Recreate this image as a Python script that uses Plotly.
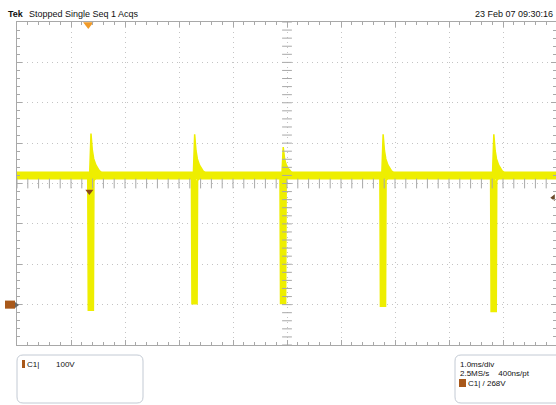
import numpy as np
import plotly.graph_objects as go

# ---------------- data ----------------
spike_time_ms = [1.37, 3.29, 4.93, 6.78, 8.83]     # time of each spike (ms)
spike_peak_v = [424, 422, 390, 422, 422]           # top of the positive overshoot (V)
spike_low_v = [-14, 2, 3, -4, -17]                 # bottom of the negative spike (V)
baseline_v = 320                                   # flat level of the trace (V)
trigger_time_ms = 1.32
trigger_level_v = 268
ground_level_v = 0

header_left = "Stopped Single Seq 1 Acqs"
header_right = "23 Feb 07 09:30:16"
ch_scale = "100V"
timebase_lines = ["1.0ms/div", "2.5MS/s    400ns/pt"]
trig_text = "C1| / 268V"

# shape templates (relative time offsets in ms, fraction of amplitude)
up_dt = [-0.025, 0.0, 0.025, 0.05, 0.09, 0.15, 0.25]
up_hi = [0.0, 1.0, 0.6, 0.4, 0.25, 0.12, 0.0]
up_lo = [0.0, 0.0, 0.16, 0.12, 0.07, 0.03, 0.0]
dn_dt = [-0.06, -0.05, 0.045, 0.055]
dn_fr = [0.0, 1.0, 1.0, 0.0]

# ---------------- layout geometry ----------------
W, H = 556, 405
L, T = 17, 22
PW, PH = 539, 323
XMAX = PW / 54.0
YMIN, YMAX = -100, 700

YEL = "#eeee00"
BROWN = "#a8581a"
ORANGE = "#f09a28"
GRID = "#c4c4c4"
AXC = "#a8a8a8"


def px(x):
    return (x - L) / PW


def py(y):
    return (T + PH - y) / PH


fig = go.Figure()

# baseline band
fig.add_trace(go.Scatter(x=[0, XMAX], y=[baseline_v, baseline_v], mode="lines",
                         line=dict(color=YEL, width=8), hoverinfo="skip", showlegend=False))

# spikes
xs, ys = [], []
for t, pk, lo in zip(spike_time_ms, spike_peak_v, spike_low_v):
    amp = pk - baseline_v
    for d, f in zip(up_dt, up_hi):
        xs.append(t + d); ys.append(baseline_v + f * amp)
    for d, f in zip(reversed(up_dt), reversed(up_lo)):
        xs.append(t + d); ys.append(baseline_v - f * amp)
    xs.append(None); ys.append(None)
    depth = baseline_v - lo
    for d, f in zip(dn_dt, dn_fr):
        xs.append(t + d); ys.append(baseline_v - f * depth)
    xs.append(None); ys.append(None)

fig.add_trace(go.Scatter(x=xs, y=ys, mode="lines", fill="toself", fillcolor=YEL,
                         line=dict(color=YEL, width=1.5), hoverinfo="skip", showlegend=False))

# crosshair ticks
cx = np.arange(0, 10.001, 0.2)
cy = np.arange(YMIN, YMAX + 0.1, 20)
fig.add_trace(go.Scatter(x=cx, y=[300] * len(cx), mode="markers",
                         marker=dict(symbol="line-ns", size=7, line=dict(color=AXC, width=1)),
                         hoverinfo="skip", showlegend=False, cliponaxis=False))
fig.add_trace(go.Scatter(x=[5] * len(cy), y=cy, mode="markers",
                         marker=dict(symbol="line-ew", size=7, line=dict(color=AXC, width=1)),
                         hoverinfo="skip", showlegend=False))

# trigger markers
fig.add_trace(go.Scatter(x=[trigger_time_ms], y=[YMAX - 6], mode="markers",
                         marker=dict(symbol="triangle-down", size=9, color=ORANGE),
                         hoverinfo="skip", showlegend=False, cliponaxis=False))
fig.add_trace(go.Scatter(x=[trigger_time_ms + 0.02], y=[trigger_level_v + 12], mode="markers",
                         marker=dict(symbol="triangle-down", size=7, color="#8a4a18"),
                         hoverinfo="skip", showlegend=False, cliponaxis=False))
fig.add_trace(go.Scatter(x=[XMAX - 0.05], y=[trigger_level_v - 3], mode="markers",
                         marker=dict(symbol="triangle-left", size=6, color="#6a4a2a"),
                         hoverinfo="skip", showlegend=False, cliponaxis=False))

shapes = []
shapes.append(dict(type="rect", xref="paper", yref="y", x0=px(5), x1=px(15),
                   y0=ground_level_v - 10, y1=ground_level_v + 10,
                   fillcolor=BROWN, line=dict(width=0)))
shapes.append(dict(type="path", xref="paper", yref="paper",
                   path=f"M{px(15)},{py(302)} L{px(19)},{py(305)} L{px(15)},{py(308)} Z",
                   fillcolor="#666666", line=dict(width=0)))


def rounded(x0, y0, x1, y1, r):
    p = [
        f"M{px(x0 + r)},{py(y0)}",
        f"L{px(x1 - r)},{py(y0)}",
        f"Q{px(x1)},{py(y0)} {px(x1)},{py(y0 + r)}",
        f"L{px(x1)},{py(y1 - r)}",
        f"Q{px(x1)},{py(y1)} {px(x1 - r)},{py(y1)}",
        f"L{px(x0 + r)},{py(y1)}",
        f"Q{px(x0)},{py(y1)} {px(x0)},{py(y1 - r)}",
        f"L{px(x0)},{py(y0 + r)}",
        f"Q{px(x0)},{py(y0)} {px(x0 + r)},{py(y0)}",
        "Z",
    ]
    return " ".join(p)


shapes.append(dict(type="path", xref="paper", yref="paper", path=rounded(17, 355, 143, 403, 6),
                   line=dict(color="#c3cad4", width=1), fillcolor="rgba(0,0,0,0)"))
shapes.append(dict(type="path", xref="paper", yref="paper", path=rounded(455, 355, 562, 403, 6),
                   line=dict(color="#c3cad4", width=1), fillcolor="rgba(0,0,0,0)"))
shapes.append(dict(type="rect", xref="paper", yref="paper", x0=px(22), x1=px(25),
                   y0=py(368), y1=py(360), fillcolor=BROWN, line=dict(width=0)))
shapes.append(dict(type="rect", xref="paper", yref="paper", x0=px(459), x1=px(466),
                   y0=py(387), y1=py(379), fillcolor=BROWN, line=dict(width=0)))

FONT = "Liberation Sans, Arial, sans-serif"
ann = []


def text(x, y, s, size=8, bold=False, anchor="left"):
    ann.append(dict(xref="paper", yref="paper", x=px(x), y=py(y), text=("<b>%s</b>" % s) if bold else s,
                    showarrow=False, xanchor=anchor, yanchor="middle",
                    font=dict(family=FONT, size=size, color="#111111")))


text(6, 14, "Tek", 9, True)
text(27, 14, header_left, 9)
text(555, 14, header_right, 9, anchor="right")
text(25, 364, "C1|", 8)
text(54, 364, ch_scale, 8)
text(458, 364, timebase_lines[0], 8)
text(458, 373, timebase_lines[1], 8)
text(466, 383, trig_text, 8)

axis_common = dict(showgrid=True, gridcolor=GRID, griddash="1px,4px", gridwidth=1,
                   showline=True, linecolor=AXC, linewidth=1, mirror="ticks",
                   ticks="inside", ticklen=5, tickcolor=AXC, showticklabels=False,
                   zeroline=False, fixedrange=True)

fig.update_layout(
    width=W, height=H,
    margin=dict(l=L, r=W - L - PW, t=T, b=H - T - PH),
    paper_bgcolor="white", plot_bgcolor="white",
    xaxis=dict(range=[0, XMAX], tick0=0, dtick=1,
               minor=dict(dtick=0.2, ticks="inside", ticklen=3, tickcolor=AXC, showgrid=False),
               **axis_common),
    yaxis=dict(range=[YMIN, YMAX], tick0=YMIN, dtick=100,
               minor=dict(dtick=20, ticks="inside", ticklen=3, tickcolor=AXC, showgrid=False),
               **axis_common),
    shapes=shapes, annotations=ann, showlegend=False,
)

fig.write_html("out.html", config={"displayModeBar": False},
               post_script="document.body.style.margin='0';document.body.style.overflow='hidden';")
